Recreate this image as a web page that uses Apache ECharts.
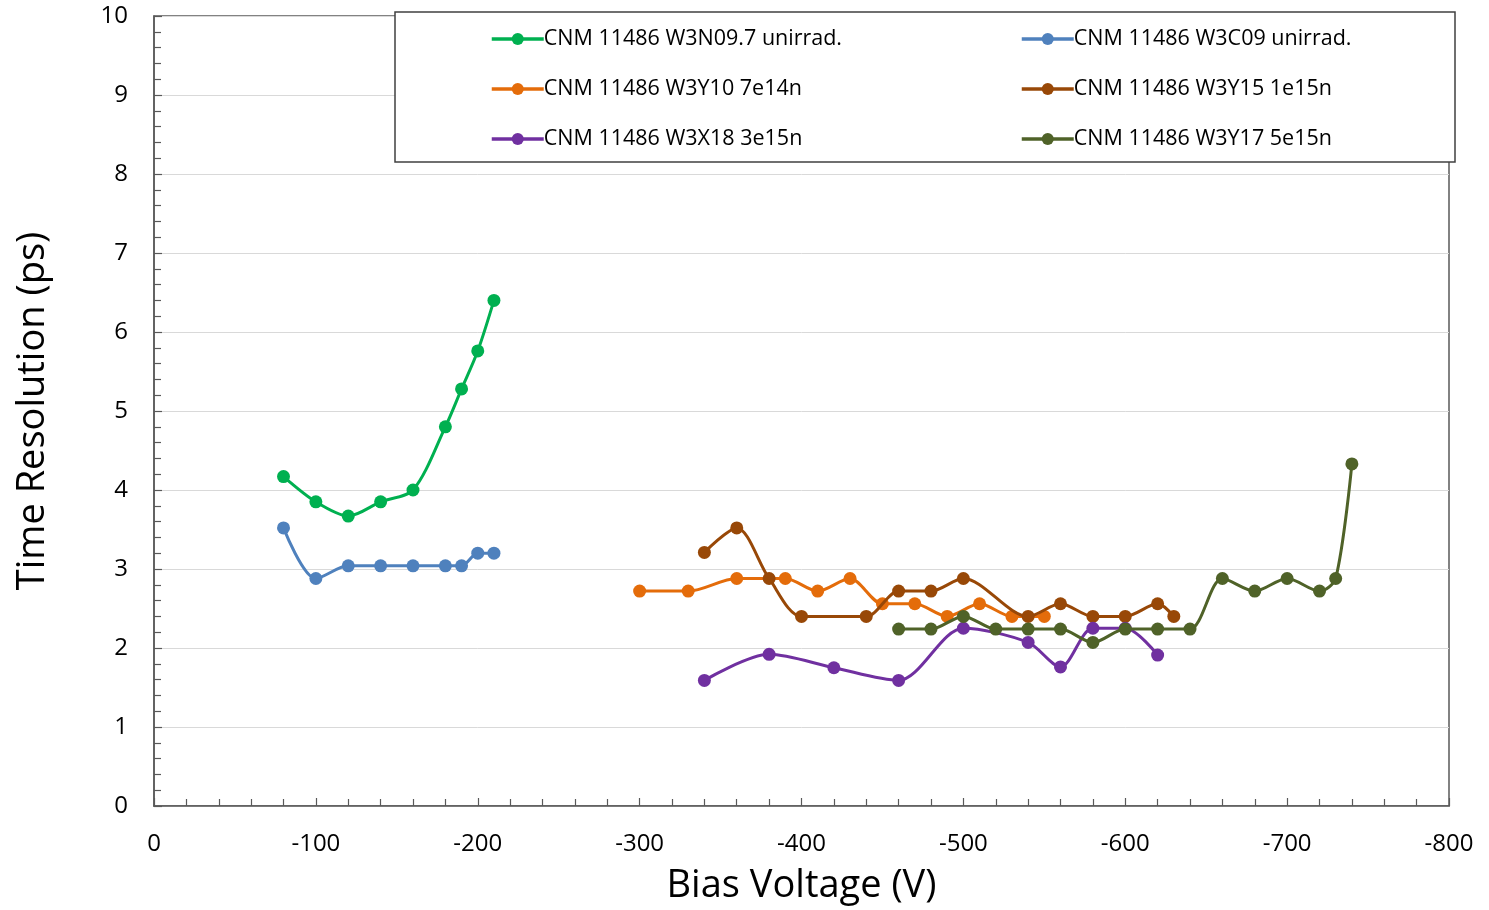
<!DOCTYPE html>
<html>
<head>
<meta charset="utf-8">
<script src="https://cdn.jsdelivr.net/npm/echarts@6/dist/echarts.min.js"></script>
<style>html,body{margin:0;padding:0;background:#fff;}#c{width:1489px;height:910px;}</style>
</head>
<body>
<div id="c"></div>
<script>
const seriesNames = [
  'CNM 11486 W3N09.7 unirrad.',
  'CNM 11486 W3C09 unirrad.',
  'CNM 11486 W3Y10 7e14n',
  'CNM 11486 W3Y15 1e15n',
  'CNM 11486 W3X18 3e15n',
  'CNM 11486 W3Y17 5e15n'
];
const colors = ['#00B050', '#4F81BD', '#E46C0A', '#984807', '#7030A0', '#4F6228'];

const w3n09V = [-80, -100, -120, -140, -160, -180, -190, -200, -210];
const w3n09T = [4.17, 3.85, 3.67, 3.85, 4.00, 4.80, 5.28, 5.76, 6.40];

const w3c09V = [-80, -100, -120, -140, -160, -180, -190, -200, -210];
const w3c09T = [3.52, 2.88, 3.04, 3.04, 3.04, 3.04, 3.04, 3.20, 3.20];

const w3y10V = [-300, -330, -360, -390, -410, -430, -450, -470, -490, -510, -530, -550];
const w3y10T = [2.72, 2.72, 2.88, 2.88, 2.72, 2.88, 2.56, 2.56, 2.40, 2.56, 2.40, 2.40];

const w3y15V = [-340, -360, -380, -400, -440, -460, -480, -500, -540, -560, -580, -600, -620, -630];
const w3y15T = [3.21, 3.52, 2.88, 2.40, 2.40, 2.72, 2.72, 2.88, 2.40, 2.56, 2.40, 2.40, 2.56, 2.40];

const w3x18V = [-340, -380, -420, -460, -500, -540, -560, -580, -600, -620];
const w3x18T = [1.59, 1.92, 1.75, 1.59, 2.25, 2.07, 1.76, 2.25, 2.25, 1.91];

const w3y17V = [-460, -480, -500, -520, -540, -560, -580, -600, -620, -640, -660, -680, -700, -720, -730, -740];
const w3y17T = [2.24, 2.24, 2.40, 2.24, 2.24, 2.24, 2.07, 2.24, 2.24, 2.24, 2.88, 2.72, 2.88, 2.72, 2.88, 4.33];

const allV = [w3n09V, w3c09V, w3y10V, w3y15V, w3x18V, w3y17V];
const allT = [w3n09T, w3c09T, w3y10T, w3y15T, w3x18T, w3y17T];

const font = '"Open Sans", "Noto Sans", sans-serif';

const series = seriesNames.map((name, i) => ({
  name: name,
  type: 'line',
  smooth: 0.3,
  symbol: 'circle',
  symbolSize: 13,
  showSymbol: true,
  lineStyle: { width: 3, color: colors[i] },
  itemStyle: { color: colors[i] },
  data: allV[i].map((v, k) => [v, allT[i][k]]),
  z: 2 + i
}));

const legX = [490, 1020];
const legY = [28, 78, 128];
const legends = seriesNames.map((name, i) => ({
  data: [name],
  left: legX[i % 2],
  top: legY[Math.floor(i / 2)],
  padding: 0,
  itemWidth: 52,
  itemHeight: 15,
  itemGap: 0,
  z: 20,
  lineStyle: { width: 3.5 },
  textStyle: { fontFamily: font, fontSize: 21.5, color: '#000', padding: [0, 0, 0, -5] }
}));

const chart = echarts.init(document.getElementById('c'));
chart.setOption({
  animation: false,
  backgroundColor: '#fff',
  color: colors,
  grid: { left: 154, right: 40, top: 16, bottom: 102, show: true, borderColor: '#595959', borderWidth: 1.5, backgroundColor: 'transparent' },
  legend: legends,
  graphic: [{
    type: 'rect',
    shape: { x: 395, y: 12, width: 1060, height: 150 },
    style: { fill: '#fff', stroke: '#404040', lineWidth: 1.5 },
    z: 10
  }],
  xAxis: {
    type: 'value',
    min: -800, max: 0, interval: 100,
    inverse: true,
    name: 'Bias Voltage (V)',
    nameLocation: 'middle',
    nameGap: 61,
    nameTextStyle: { fontFamily: font, fontSize: 38, color: '#000' },
    axisLine: { show: true, lineStyle: { color: '#595959', width: 1.5 } },
    axisTick: { show: true, inside: true, length: 8, lineStyle: { color: '#595959', width: 1.2 } },
    minorTick: { show: true, splitNumber: 5, length: 7, lineStyle: { color: '#595959', width: 1.2 } },
    splitLine: { show: false },
    axisLabel: { fontFamily: font, fontSize: 24, color: '#000', margin: 26 }
  },
  yAxis: {
    type: 'value',
    min: 0, max: 10, interval: 1,
    name: 'Time Resolution (ps)',
    nameLocation: 'middle',
    nameGap: 102,
    nameTextStyle: { fontFamily: font, fontSize: 38, color: '#000' },
    axisLine: { show: true, lineStyle: { color: '#595959', width: 1.5 } },
    axisTick: { show: true, inside: true, length: 8, lineStyle: { color: '#595959', width: 1.2 } },
    minorTick: { show: true, splitNumber: 5, length: 7, lineStyle: { color: '#595959', width: 1.2 } },
    splitLine: { show: true, lineStyle: { color: '#D9D9D9', width: 1 } },
    axisLabel: { fontFamily: font, fontSize: 24, color: '#000', margin: 26 }
  },
  series: series
});
</script>
</body>
</html>
